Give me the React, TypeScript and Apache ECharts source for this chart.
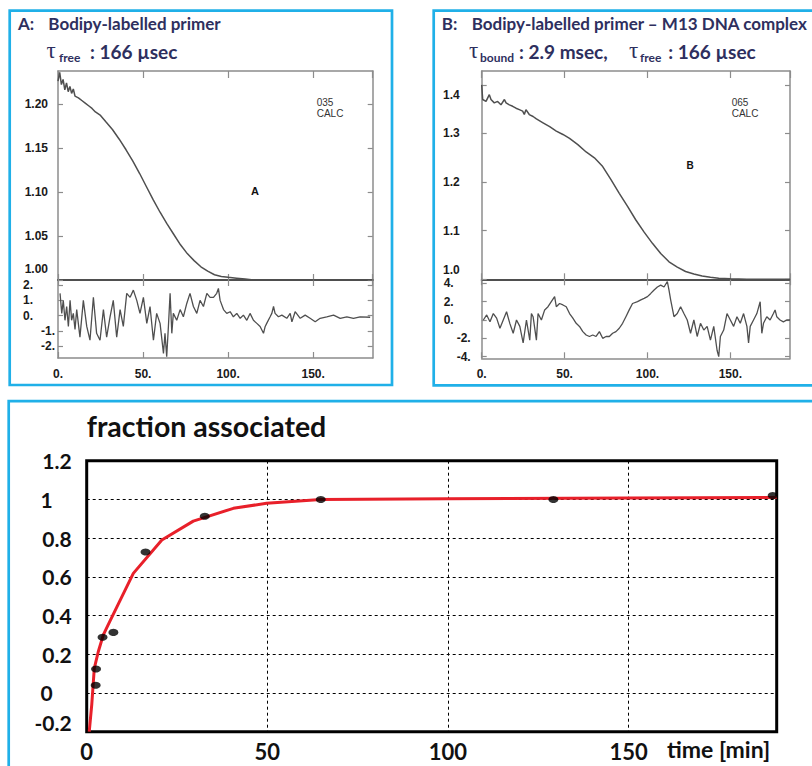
import React, { useEffect, useRef } from "react";
import * as echarts from "echarts";

// ---------- Panel A : Bodipy-labelled primer ----------
const aFitX = [0, 1, 2, 3, 4, 5, 6, 7, 8, 9, 10, 12, 14, 16, 18, 20, 22, 25, 28, 32, 36, 40, 44, 48, 52, 56, 60, 64, 68, 72, 76, 80, 84, 88, 92, 96, 100, 105, 110, 115, 120, 140, 160, 185];
const aFitY = [1.226, 1.236, 1.222, 1.228, 1.216, 1.224, 1.214, 1.22, 1.212, 1.217, 1.209, 1.207, 1.204, 1.201, 1.198, 1.195, 1.191, 1.187, 1.18, 1.171, 1.16, 1.148, 1.135, 1.121, 1.106, 1.091, 1.077, 1.064, 1.052, 1.04, 1.03, 1.022, 1.015, 1.01, 1.006, 1.004, 1.003, 1.002, 1.001, 1.0, 1.0, 1.0, 1.0, 1.0];
const aResX = [1.2, 2.2, 3.1, 4.1, 5.1, 6.1, 7.1, 8, 9, 10, 11, 12.9, 14.9, 16.9, 18.8, 20.8, 22.7, 24.7, 26.7, 28.6, 30.6, 32.5, 34.5, 36.5, 38.4, 40.4, 42.4, 44.3, 46.3, 48.2, 50.2, 52.2, 54.1, 56.1, 58, 60, 62, 62.9, 63.9, 64.9, 65.9, 66.9, 67.8, 69.8, 71.8, 73.7, 75.7, 77.6, 79.6, 81.6, 83.5, 85.5, 87.5, 89.4, 91.4, 93.3, 94.3, 95.3, 97.3, 99.2, 101.2, 103.1, 105.1, 107.1, 109, 111, 112.9, 114.9, 116.9, 118.8, 120.8, 121.8, 122.7, 124.7, 125.7, 126.7, 127.6, 129.6, 131.6, 134.5, 136.5, 137.5, 139.4, 142.4, 145.3, 148.2, 151.2, 154.1, 158, 162, 165.9, 169.8, 173.7, 177.6, 183.5];
const aResY = [1.46, 0.15, 1.0, -0.3, 0.6, -0.7, 1.0, -0.3, 0.15, -0.9, 0.4, -1.4, 1.0, -0.7, -1.6, 1.2, -1.15, -1.6, 0.4, -1.4, -0.07, 1.0, -1.4, 0.4, -0.7, 1.46, 1.2, 1.67, 1.0, 0.15, 1.2, -0.5, 0.6, -1.6, 0.15, -0.5, -2.46, -1.15, -2.67, -0.7, 1.46, -1.15, 0.15, -0.3, 0.4, -0.07, 0.8, 1.46, 0.6, 0.15, 1.0, 0.6, 1.46, 1.2, 1.2, 1.46, 1.78, 1.0, 0.4, 0.15, 0.26, -0.07, 0.15, -0.17, 0.04, -0.3, 0.15, -0.3, -0.5, -0.7, -1.15, -0.7, -0.5, -0.07, 0.15, 0.6, 0.15, -0.07, 0.04, -0.17, 0.15, -0.4, 0.26, -0.17, 0.04, -0.17, -0.4, -0.17, -0.07, 0.04, -0.17, -0.07, -0.17, -0.07, -0.1];
const aMainTicks = [1.0, 1.05, 1.1, 1.15, 1.2];
const aResTicks = [-2, -1, 0, 1, 2];

// ---------- Panel B : primer - M13 DNA complex ----------
const bFitX = [0, 0.6, 2.6, 4.6, 5.6, 7.6, 9.6, 11.6, 13.7, 14.7, 16.7, 18.7, 20.7, 22.7, 24.7, 25.7, 26.7, 28.7, 31, 33, 37, 41, 45, 49, 53, 58, 63, 68, 73, 78, 83, 88, 93, 98, 103, 108, 113, 118, 123, 128, 133, 138, 143, 150, 160, 170, 186];
const bFitY = [1.4, 1.37, 1.366, 1.38, 1.37, 1.363, 1.366, 1.359, 1.37, 1.363, 1.359, 1.356, 1.352, 1.349, 1.346, 1.339, 1.349, 1.339, 1.335, 1.33, 1.322, 1.314, 1.305, 1.298, 1.29, 1.277, 1.262, 1.25, 1.232, 1.205, 1.177, 1.15, 1.122, 1.097, 1.074, 1.053, 1.036, 1.025, 1.016, 1.011, 1.007, 1.004, 1.002, 1.001, 1.0, 1.0, 1.0];
const bResX = [1, 3, 5, 7, 9, 11, 13, 15, 17, 19, 21, 23, 25, 27, 29, 30, 31, 33, 34, 36, 38, 40, 42, 44, 45, 47, 49, 51, 53, 55, 57, 59, 61, 63, 65, 67, 69, 71, 73, 75, 77, 79, 81, 83, 85, 87, 89, 91, 94, 96, 98, 100, 102, 104, 106, 108, 110, 112, 113, 114, 116, 118, 120, 122, 124, 126, 128, 130, 132, 134, 136, 138, 140, 142, 143, 144, 146, 148, 150, 152, 154, 156, 158, 160, 161, 162, 164, 166, 168, 169, 170, 172, 174, 176, 177, 178, 180, 182, 184, 186];
const bResY = [0, 0.55, -0.2, 0.7, 0.2, -0.9, 0, 0.9, -0.4, -1.45, 0, -0.7, -2.5, 0, -2.2, 0.7, 0.36, -2.2, 0.7, 0, 1.1, 1.45, 2.0, 2.55, 1.45, 1.8, 1.64, 1.45, 0.7, 0.2, -0.36, -0.7, -1.27, -1.64, -1.8, -1.64, -1.8, -1.27, -2.0, -1.8, -1.8, -1.45, -1.27, -0.9, -0.36, 0.36, 1.1, 1.8, 2.0, 2.2, 2.36, 2.55, 2.9, 3.27, 3.6, 3.8, 3.6, 4.2, 3.27, 2.2, 0.36, 0.7, 1.45, 0.7, 0, -1.45, 0, -1.8, -0.36, -1.1, -0.7, -2.2, -0.7, -3.3, -4.0, -1.8, -1.1, 0.7, 0, -0.7, 0.36, -0.36, 0.7, -0.7, -2.5, -0.7, 0, 0.7, 2.0, -1.45, -0.36, 0.36, 0, 0.7, 1.1, 0.36, 0, -0.2, 0, 0];
const bMainTicks = [1.0, 1.1, 1.2, 1.3, 1.4];
const bResTicks = [-4, -2, 0, 2, 4];

// ---------- Bottom panel : fraction associated vs time ----------
const assocTime = [2.5, 2.6, 4.4, 7.4, 16.3, 32.7, 64.8, 129.2, 189.9];
const assocFrac = [0.04, 0.124, 0.288, 0.313, 0.728, 0.913, 1.0, 1.0, 1.02];
const fitTime = [0.7, 1.4, 2.1, 3.2, 4.6, 6.4, 12.9, 20.8, 29.5, 40.6, 49.8, 64.8, 100, 150, 191];
const fitFrac = [-0.2, -0.06, 0.127, 0.213, 0.3, 0.37, 0.618, 0.79, 0.888, 0.954, 0.98, 1.0, 1.004, 1.007, 1.01];

const pairs = (xs: number[], ys: number[]) => xs.map((x, i) => [x, ys[i]]);

const GRAY = "#8c8c8c";
const DARK = "#4f4f4f";
const NAVY = "#2e2f5e";
const BLUE = "#20b0e8";
const smallFont = { fontFamily: "'Liberation Sans', Arial, sans-serif", fontWeight: "bold" as const, fontSize: 12, color: "#1a1a1a" };
const bigFont = { fontFamily: "Lato, 'Open Sans', sans-serif", fontWeight: "bold" as const, fontSize: 20, color: "#111" };

function topX(grid: number, max: number, pos: "top" | "bottom", opts: any) {
  return {
    type: "value", gridIndex: grid, position: pos, min: 0, max, interval: 50,
    axisLine: { show: opts.line !== false, onZero: false, lineStyle: { color: opts.lineColor || GRAY, width: opts.lineWidth || 1.5 } },
    axisTick: { show: true, inside: true, length: opts.tickLen || 6, lineStyle: { color: GRAY, width: 1.2 } },
    axisLabel: opts.labels
      ? { show: true, margin: 10, showMaxLabel: false, formatter: (v: number) => (v % 50 === 0 ? v + "." : ""), ...smallFont }
      : { show: false },
    splitLine: { show: false },
  };
}

function topY(grid: number, min: number, max: number, ticks: number[], pos: "left" | "right", label: any) {
  return {
    type: "value", gridIndex: grid, position: pos, min, max,
    axisLine: { show: true, onZero: false, lineStyle: { color: GRAY, width: 1.5 } },
    axisTick: { show: true, inside: true, length: 5, customValues: ticks, lineStyle: { color: GRAY, width: 1.2 } },
    axisLabel: label
      ? { show: true, customValues: ticks, margin: label.margin, formatter: label.formatter, rich: label.rich, ...smallFont }
      : { show: false },
    splitLine: { show: false },
  };
}

const txt = (text: string, x: number, y: number, font: string, fill: string, align = "left") => ({
  type: "text", x, y, silent: true,
  style: { text, font, fill, textAlign: align, textVerticalAlign: "middle" },
});

export default function App() {
  const ref = useRef<HTMLDivElement>(null);
  useEffect(() => {
    if (!ref.current) return;
    const chart = echarts.init(ref.current, undefined, { renderer: "svg" });
    const rs = (pad: number[]) => ({ ...smallFont, padding: pad });
    const HF = "bold 17px Lato, sans-serif";
    const H2 = "bold 19px Lato, sans-serif";
    const SUB = "bold 12px Lato, sans-serif";
    const TAU = "23px 'Liberation Serif', serif";
    const option: any = {
      animation: false,
      backgroundColor: "#fff",
      grid: [
        { left: 58, top: 71, width: 314.7, height: 209 },
        { left: 58, top: 280, width: 314.7, height: 78 },
        { left: 481.7, top: 71, width: 308.3, height: 208.3 },
        { left: 481.7, top: 279.3, width: 308.3, height: 79 },
        { left: 86.7, top: 460.7, width: 690, height: 271, show: true, borderColor: "#000", borderWidth: 3, backgroundColor: "transparent" },
      ],
      xAxis: [
        topX(0, 185, "bottom", { lineColor: DARK, lineWidth: 2, tickLen: 6 }),
        topX(0, 185, "top", { tickLen: 7 }),
        topX(1, 185, "bottom", { labels: true }),
        topX(1, 185, "top", { line: false, tickLen: 6 }),
        topX(2, 186, "bottom", { lineColor: DARK, lineWidth: 2, tickLen: 6 }),
        topX(2, 186, "top", { tickLen: 7 }),
        topX(3, 186, "bottom", { labels: true }),
        topX(3, 186, "top", { line: false, tickLen: 6 }),
        {
          type: "value", gridIndex: 4, position: "bottom", min: 0, max: 191, interval: 50,
          axisLine: { show: false, onZero: false }, axisTick: { show: false },
          axisLabel: { show: true, margin: 9, showMaxLabel: false, ...bigFont, fontSize: 22 },
          splitLine: { show: true, lineStyle: { color: "#000", width: 1, type: [3, 3] } },
        },
      ],
      yAxis: [
        topY(0, 1.0, 1.2375, aMainTicks, "left", {
          margin: 10,
          formatter: (v: number) => (v === 1 ? "{up|1.00}" : v.toFixed(2)),
          rich: { up: rs([0, 0, 22, 0]) },
        }),
        topY(0, 1.0, 1.2375, aMainTicks, "right", null),
        topY(1, -2.76, 2.33, aResTicks, "left", {
          margin: 3,
          formatter: (v: number) => (v >= 0 ? "{p|" + v + ".}" : v + "."),
          rich: { p: rs([0, 22, 0, 0]) },
        }),
        topY(1, -2.76, 2.33, aResTicks, "right", null),
        topY(2, 1.0, 1.4286, bMainTicks, "left", {
          margin: 22,
          formatter: (v: number) => (v === 1 ? "{up|1.0}" : v === 1.4 ? "{dn|1.4}" : v.toFixed(1)),
          rich: { up: rs([0, 0, 18, 0]), dn: rs([20, 0, 0, 0]) },
        }),
        topY(2, 1.0, 1.4286, bMainTicks, "right", null),
        topY(3, -4.18, 4.44, bResTicks, "left", {
          margin: 11,
          formatter: (v: number) => (v >= 0 ? "{p|" + v + ".}" : v + "."),
          rich: { p: rs([0, 17, 0, 0]) },
        }),
        topY(3, -4.18, 4.44, bResTicks, "right", null),
        {
          type: "value", gridIndex: 4, position: "left", min: -0.2, max: 1.2, interval: 0.2,
          axisLine: { show: false, onZero: false }, axisTick: { show: false },
          axisLabel: {
            show: true, margin: 15, ...bigFont, fontSize: 21,
            formatter: (v: number) => {
              const s = String(parseFloat(v.toFixed(1)));
              if (s === "1" || s === "0") return "{p|" + s + "}";
              if (s === "-0.2") return "{q|" + s + "}";
              return s;
            },
            rich: { p: { ...bigFont, fontSize: 21, padding: [0, 19, 0, 0] }, q: { ...bigFont, fontSize: 21, padding: [0, 0, 18, 0] } },
          },
          splitLine: { show: true, lineStyle: { color: "#000", width: 1, type: [3, 3] } },
        },
      ],
      series: [
        { type: "line", xAxisIndex: 0, yAxisIndex: 0, data: pairs(aFitX, aFitY), showSymbol: false, lineStyle: { color: DARK, width: 1.5 }, z: 3 },
        { type: "line", xAxisIndex: 2, yAxisIndex: 2, data: pairs(aResX, aResY), showSymbol: false, lineStyle: { color: DARK, width: 1.3 }, z: 3 },
        { type: "line", xAxisIndex: 4, yAxisIndex: 4, data: pairs(bFitX, bFitY), showSymbol: false, lineStyle: { color: DARK, width: 1.5 }, z: 3 },
        { type: "line", xAxisIndex: 6, yAxisIndex: 6, data: pairs(bResX, bResY), showSymbol: false, lineStyle: { color: DARK, width: 1.3 }, z: 3 },
        { type: "line", xAxisIndex: 8, yAxisIndex: 8, data: pairs(fitTime, fitFrac), showSymbol: false, lineStyle: { color: "#e8202a", width: 3 }, z: 4 },
        { type: "scatter", xAxisIndex: 8, yAxisIndex: 8, data: pairs(assocTime, assocFrac), symbol: "circle", symbolSize: [10, 7], itemStyle: { color: "#000" }, clip: false, z: 5 },
      ],
      graphic: [
        { type: "rect", silent: true, shape: { x: 9.7, y: 10.7, width: 382.3, height: 374.3 }, style: { fill: "none", stroke: BLUE, lineWidth: 2.7 } },
        { type: "rect", silent: true, shape: { x: 433.7, y: 10.7, width: 400, height: 374.6 }, style: { fill: "none", stroke: BLUE, lineWidth: 2.7 } },
        { type: "rect", silent: true, shape: { x: 8.7, y: 401.2, width: 850, height: 420 }, style: { fill: "none", stroke: BLUE, lineWidth: 2.7 } },
        txt("A:", 18, 23.5, HF, NAVY),
        txt("Bodipy-labelled primer", 48.3, 23.5, HF, NAVY),
        txt("τ", 46.5, 50, TAU, NAVY),
        txt("free", 59, 57, SUB, NAVY),
        txt(": 166 µsec", 90, 51, H2, NAVY),
        txt("B:", 441.7, 23.5, HF, NAVY),
        txt("Bodipy-labelled primer – M13 DNA complex", 471.7, 23.5, HF, NAVY),
        txt("τ", 469, 50, TAU, NAVY),
        txt("bound", 480, 57, SUB, NAVY),
        txt(": 2.9 msec,", 519, 51, H2, NAVY),
        txt("τ", 629, 50, TAU, NAVY),
        txt("free", 640, 57, SUB, NAVY),
        txt(": 166 µsec", 668.3, 51, H2, NAVY),
        txt("035", 316.7, 102.7, "10px 'Liberation Sans', Arial, sans-serif", "#333"),
        txt("CALC", 316.7, 113.3, "10px 'Liberation Sans', Arial, sans-serif", "#333"),
        txt("A", 255, 191, "bold 11px 'Liberation Sans', Arial, sans-serif", "#111", "center"),
        txt("065", 731.7, 102.7, "10px 'Liberation Sans', Arial, sans-serif", "#333"),
        txt("CALC", 731.7, 113.3, "10px 'Liberation Sans', Arial, sans-serif", "#333"),
        txt("B", 690, 165, "bold 10px 'Liberation Sans', Arial, sans-serif", "#111", "center"),
        txt("fraction associated", 86.7, 425.5, "bold 28.5px Lato, sans-serif", "#111"),
        txt("time [min]", 667, 748.5, "bold 23px Lato, sans-serif", "#111"),
      ],
    };
    chart.setOption(option);
    return () => chart.dispose();
  }, []);
  return <div ref={ref} style={{ position: "absolute", left: 0, top: 0, width: 812, height: 766 }} />;
}
